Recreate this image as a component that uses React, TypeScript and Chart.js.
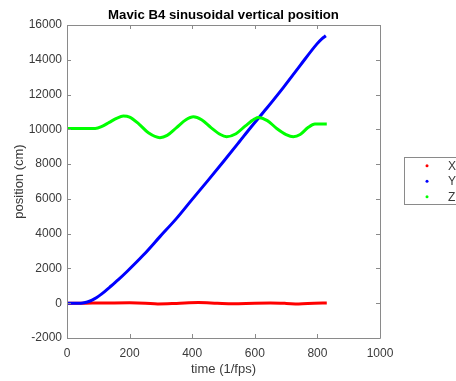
import React, { useEffect, useRef } from "react";
import { Chart, registerables } from "chart.js";

Chart.register(...registerables);

const TITLE = "Mavic B4 sinusoidal vertical position";
const X_LABEL = "time (1/fps)";
const Y_LABEL = "position (cm)";
const SERIES_NAMES = ["X", "Y", "Z"];
const SERIES_COLORS = ["#ff0000", "#0000ff", "#00ff00"];
const X_TICKS = [0, 200, 400, 600, 800, 1000];
const Y_TICKS = [-2000, 0, 2000, 4000, 6000, 8000, 10000, 12000, 14000, 16000];

// X position (red)
const xTime = [0, 60, 120, 200, 250, 290, 350, 420, 480, 530, 600, 650, 700, 740, 790, 830];
const xPos = [0, 5, 10, 20, 0, -40, -10, 40, 0, -30, 0, 10, -10, -40, 0, 10];

// Y position (blue)
const yTime = [0, 40, 50, 65, 80, 95, 110, 137, 165, 191, 244, 297, 350, 398, 450, 500, 550, 585, 638, 691, 744, 798, 815, 827];
const yPos = [0, 0, 15, 70, 180, 330, 520, 930, 1370, 1810, 2770, 3830, 4880, 5930, 7050, 8150, 9270, 10060, 11210, 12400, 13650, 14900, 15220, 15380];

// Z position (green)
const zTime = [0, 90, 110, 135, 160, 180, 200, 230, 260, 297, 320, 350, 380, 404, 430, 460, 490, 510, 540, 570, 600, 611, 640, 670, 700, 723, 745, 770, 792, 830];
const zPos = [10050, 10050, 10150, 10400, 10650, 10760, 10700, 10300, 9800, 9520, 9650, 10100, 10550, 10720, 10550, 10100, 9700, 9580, 9750, 10200, 10600, 10680, 10500, 10050, 9700, 9570, 9700, 10100, 10300, 10300];

const toPoints = (t: number[], v: number[]) => t.map((x, i) => ({ x, y: v[i] }));

const AXIS_COLOR = "#8a8a8a";
const TEXT_COLOR = "#3a3a3a";
const FONT = "'Liberation Sans', Arial, Helvetica, sans-serif";

const framePlugin = {
  id: "matlabFrame",
  afterDraw(chart: any) {
    const { ctx, chartArea } = chart;
    const { left, right, top, bottom } = chartArea;
    const xs = chart.scales.x;
    const ys = chart.scales.y;
    ctx.save();
    ctx.strokeStyle = AXIS_COLOR;
    ctx.lineWidth = 1;
    ctx.beginPath();
    ctx.rect(Math.round(left) + 0.5, Math.round(top) + 0.5, Math.round(right - left), Math.round(bottom - top));
    ctx.stroke();
    const tl = 4;
    ctx.beginPath();
    X_TICKS.forEach((t) => {
      const px = Math.round(xs.getPixelForValue(t)) + 0.5;
      ctx.moveTo(px, bottom);
      ctx.lineTo(px, bottom - tl);
      ctx.moveTo(px, top);
      ctx.lineTo(px, top + tl);
    });
    Y_TICKS.forEach((t) => {
      const py = Math.round(ys.getPixelForValue(t)) + 0.5;
      ctx.moveTo(left, py);
      ctx.lineTo(left + tl, py);
      ctx.moveTo(right, py);
      ctx.lineTo(right - tl, py);
    });
    ctx.stroke();

    // title
    ctx.fillStyle = "#000";
    ctx.font = `bold 13.2px ${FONT}`;
    ctx.textAlign = "center";
    ctx.textBaseline = "middle";
    ctx.fillText(TITLE, (left + right) / 2, 15);

    // legend
    const lx = 404.5, ly = 157.5, lw = 60, lh = 47;
    ctx.fillStyle = "#fff";
    ctx.fillRect(lx, ly, lw, lh);
    ctx.strokeStyle = AXIS_COLOR;
    ctx.strokeRect(lx, ly, lw, lh);
    const rows = [165.7, 181.3, 196.7];
    ctx.font = `12px ${FONT}`;
    ctx.textAlign = "left";
    SERIES_NAMES.forEach((name, i) => {
      ctx.fillStyle = SERIES_COLORS[i];
      ctx.beginPath();
      ctx.arc(427, rows[i], 1.5, 0, Math.PI * 2);
      ctx.fill();
      ctx.fillStyle = TEXT_COLOR;
      ctx.fillText(name, 448, rows[i] + 0.5);
    });
    ctx.restore();
  },
};

export default function App() {
  const ref = useRef<HTMLCanvasElement | null>(null);
  useEffect(() => {
    if (!ref.current) return;
    const series = [toPoints(xTime, xPos), toPoints(yTime, yPos), toPoints(zTime, zPos)];
    const chart = new Chart(ref.current, {
      type: "line",
      data: {
        datasets: series.map((d, i) => ({
          label: SERIES_NAMES[i],
          data: d,
          borderColor: SERIES_COLORS[i],
          backgroundColor: SERIES_COLORS[i],
          borderWidth: 3,
          pointRadius: 0,
          cubicInterpolationMode: "monotone",
          fill: false,
          order: 3 - i,
        })),
      },
      options: {
        animation: false,
        responsive: true,
        maintainAspectRatio: false,
        layout: { padding: { top: 25, right: 76, left: 0, bottom: 0 } },
        plugins: { legend: { display: false }, tooltip: { enabled: false }, title: { display: false } },
        scales: {
          x: {
            type: "linear",
            min: 0,
            max: 1000,
            afterFit: (s: any) => { s.height = 43; },
            afterBuildTicks: (s: any) => { s.ticks = X_TICKS.map((v) => ({ value: v })); },
            grid: { display: false, drawTicks: false },
            border: { display: false },
            ticks: { color: TEXT_COLOR, font: { size: 12, family: FONT }, padding: 8, maxRotation: 0, callback: (v: any) => String(v) },
            title: { display: true, text: X_LABEL, color: TEXT_COLOR, font: { size: 13, family: FONT }, padding: { top: 0, bottom: 4 } },
          },
          y: {
            type: "linear",
            min: -2000,
            max: 16000,
            afterFit: (s: any) => { s.width = 67; },
            afterBuildTicks: (s: any) => { s.ticks = Y_TICKS.map((v) => ({ value: v })); },
            grid: { display: false, drawTicks: false },
            border: { display: false },
            ticks: { color: TEXT_COLOR, font: { size: 12, family: FONT }, padding: 5, callback: (v: any) => String(v) },
            title: { display: true, text: Y_LABEL, color: TEXT_COLOR, font: { size: 13, family: FONT }, padding: { top: 12, bottom: 0 } },
          },
        },
      },
      plugins: [framePlugin],
    });
    return () => chart.destroy();
  }, []);
  return (
    <div style={{ position: "fixed", left: 0, top: 0, width: 456, height: 381, background: "#fff" }}>
      <canvas ref={ref} />
    </div>
  );
}
